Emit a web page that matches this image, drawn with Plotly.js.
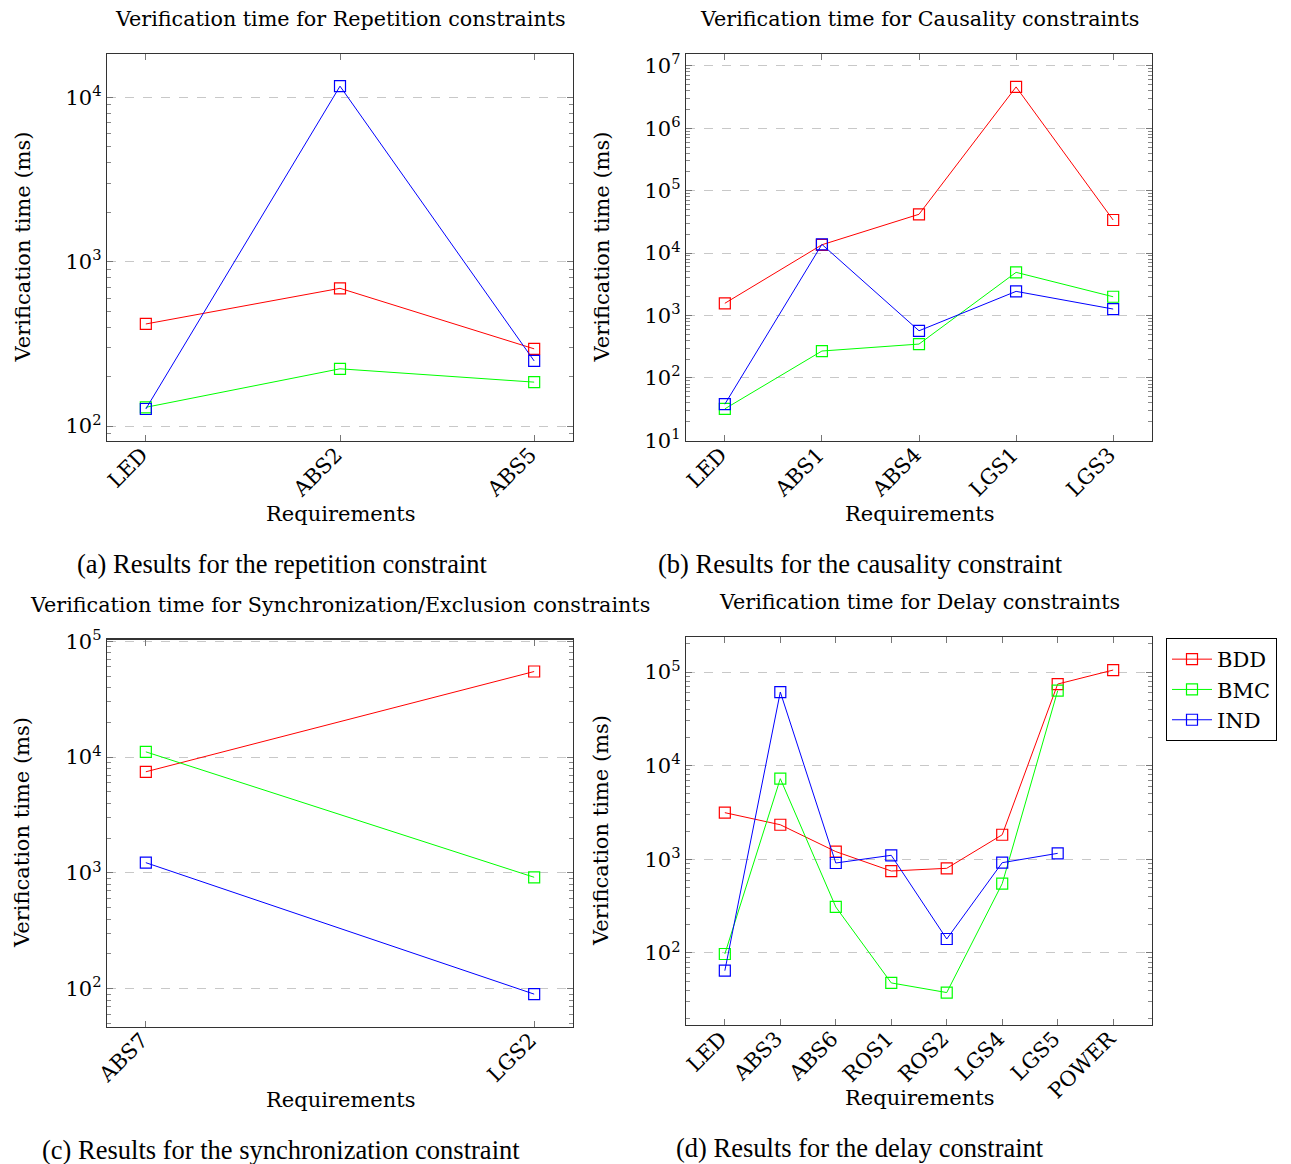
<!DOCTYPE html>
<html>
<head>
<meta charset="utf-8">
<script src="https://cdn.plot.ly/plotly-3.0.1.min.js"></script>
<style>html,body{margin:0;padding:0;background:#fff;}#chart{width:1291px;height:1164px;}</style>
</head>
<body>
<div id="chart"></div>
<script>
// ---- Data ----
const seriesNames = ["BDD", "BMC", "IND"];
const seriesColors = ["#ff0000", "#00ff00", "#0000ff"];

// (a) Repetition
const catsA = ["LED", "ABS2", "ABS5"];
const bddA = [418, 689, 295];
const bmcA = [130, 223, 185];
const indA = [127, 11700, 249];

// (b) Causality
const catsB = ["LED", "ABS1", "ABS4", "LGS1", "LGS3"];
const bddB = [1570, 13600, 41900, 4600000, 33900];
const bmcB = [32, 270, 349, 4920, 2000];
const indB = [38, 13800, 570, 2440, 1270];

// (c) Synchronization / Exclusion
const catsC = ["ABS7", "LGS2"];
const bddC = [7470, 54800];
const bmcC = [11100, 918];
const indC = [1227, 90];

// (d) Delay
const catsD = ["LED", "ABS3", "ABS6", "ROS1", "ROS2", "LGS4", "LGS5", "POWER"];
const bddD = [3150, 2340, 1210, 750, 802, 1830, 74400, 105000];
const bmcD = [97.5, 7260, 310, 47.9, 37.8, 550, 63200, null];
const indD = [64.7, 61100, 914, 1104, 141, 921, 1159, null];

const titles = [
  "Verification time for Repetition constraints",
  "Verification time for Causality constraints",
  "Verification time for Synchronization/Exclusion constraints",
  "Verification time for Delay constraints"
];
const captions = [
  "(a) Results for the repetition constraint",
  "(b) Results for the causality constraint",
  "(c) Results for the synchronization constraint",
  "(d) Results for the delay constraint"
];
const yTitle = "Verification time (ms)";
const xTitle = "Requirements";

// ---- Layout helpers ----
const W = 1291, H = 1164;
const fx = p => p / W;
const fy = p => 1 - p / H;
const plotFont = "'DejaVu Serif', 'Liberation Serif', serif";
const capFont = "'Liberation Serif', 'Times New Roman', serif";

const panels = [
  {cats: catsA, data: [bddA, bmcA, indA], x0: 107, x1: 573, y0: 54, y1: 441, yr: [1.909, 4.264], dec: [2, 3, 4]},
  {cats: catsB, data: [bddB, bmcB, indB], x0: 686, x1: 1152, y0: 54, y1: 441, yr: [0.99, 7.19], dec: [1, 2, 3, 4, 5, 6, 7]},
  {cats: catsC, data: [bddC, bmcC, indC], x0: 107, x1: 573, y0: 639.5, y1: 1026.5, yr: [1.675, 5.015], dec: [2, 3, 4, 5]},
  {cats: catsD, data: [bddD, bmcD, indD], x0: 686, x1: 1152, y0: 637, y1: 1025, yr: [1.231, 5.374], dec: [2, 3, 4, 5]}
];

const traces = [];
const layout = {
  width: W, height: H,
  margin: {l: 0, r: 0, t: 0, b: 0},
  paper_bgcolor: "#ffffff",
  plot_bgcolor: "#ffffff",
  font: {family: plotFont, color: "#000", size: 18},
  showlegend: true,
  legend: {
    x: fx(1166), y: fy(638), xanchor: "left", yanchor: "top",
    bordercolor: "#000", borderwidth: 1, bgcolor: "#fff",
    font: {family: plotFont, size: 21, color: "#000"},
    tracegroupgap: 0, itemwidth: 40
  },
  annotations: []
};

panels.forEach((p, i) => {
  const n = i + 1;
  const xa = "xaxis" + (n === 1 ? "" : n);
  const ya = "yaxis" + (n === 1 ? "" : n);
  const xr = "x" + (n === 1 ? "" : n);
  const yr = "y" + (n === 1 ? "" : n);
  const k = p.cats.length - 1;
  const pad = Math.max(k, 1) * 0.1;
  const idx = p.cats.map((_, j) => j);
  p.data.forEach((vals, s) => {
    traces.push({
      type: "scatter", mode: "lines+markers",
      x: idx, y: vals, xaxis: xr, yaxis: yr,
      name: seriesNames[s], legendgroup: seriesNames[s], showlegend: i === 0,
      connectgaps: false,
      line: {color: seriesColors[s], width: 1},
      marker: {symbol: "square-open", size: 11, color: seriesColors[s], line: {width: 1.2, color: seriesColors[s]}},
      hoverinfo: "x+y"
    });
  });
  layout[xa] = {
    domain: [fx(p.x0), fx(p.x1)], anchor: yr,
    range: [-pad, k + pad], tickvals: idx, ticktext: p.cats,
    tickangle: -45, ticks: "inside", ticklen: 6, tickcolor: "#777", tickwidth: 1,
    ticklabelstandoff: -8, ticklabelshift: -4,
    showgrid: false, zeroline: false, showline: true, linecolor: "#333", linewidth: 1.2, mirror: "ticks",
    tickfont: {family: plotFont, size: 21, color: "#000"}, fixedrange: true
  };
  layout[ya] = {
    domain: [fy(p.y1), fy(p.y0)], anchor: xr,
    type: "log", range: p.yr,
    tickvals: p.dec.map(d => Math.pow(10, d)),
    ticktext: p.dec.map(d => "10<sup>" + d + "</sup>"),
    ticks: "inside", ticklen: 6, tickcolor: "#777", tickwidth: 1,
    showgrid: true, gridcolor: "#c8c8c8", griddash: "dash", gridwidth: 1,
    zeroline: false, showline: true, linecolor: "#333", linewidth: 1.2, mirror: "ticks",
    minor: {ticks: "inside", ticklen: 4, tickcolor: "#888", showgrid: false, dtick: "D1"},
    tickfont: {family: plotFont, size: 21, color: "#000"}, fixedrange: true
  };
  const cx = fx((p.x0 + p.x1) / 2);
  layout.annotations.push({
    text: titles[i], xref: "paper", yref: "paper", x: cx, y: fy(p.y0 - 35),
    xanchor: "center", yanchor: "middle", showarrow: false,
    font: {family: plotFont, size: 20.7, color: "#000"}
  });
  layout.annotations.push({
    text: yTitle, xref: "paper", yref: "paper", x: fx(p.x0 - 85), y: fy((p.y0 + p.y1) / 2),
    xanchor: "center", yanchor: "middle", textangle: -90, showarrow: false,
    font: {family: plotFont, size: 21, color: "#000"}
  });
  layout.annotations.push({
    text: xTitle, xref: "paper", yref: "paper", x: cx, y: fy(p.y1 + 73),
    xanchor: "center", yanchor: "middle", showarrow: false,
    font: {family: plotFont, size: 21, color: "#000"}
  });
});

const capPos = [[282, 564], [860, 564], [281, 1150], [860, 1148]];
captions.forEach((c, i) => {
  layout.annotations.push({
    text: c, xref: "paper", yref: "paper", x: fx(capPos[i][0]), y: fy(capPos[i][1]),
    xanchor: "center", yanchor: "middle", showarrow: false,
    font: {family: capFont, size: 26.5, color: "#000"}
  });
});

Plotly.newPlot("chart", traces, layout, {displayModeBar: false, staticPlot: true});
</script>
</body>
</html>
